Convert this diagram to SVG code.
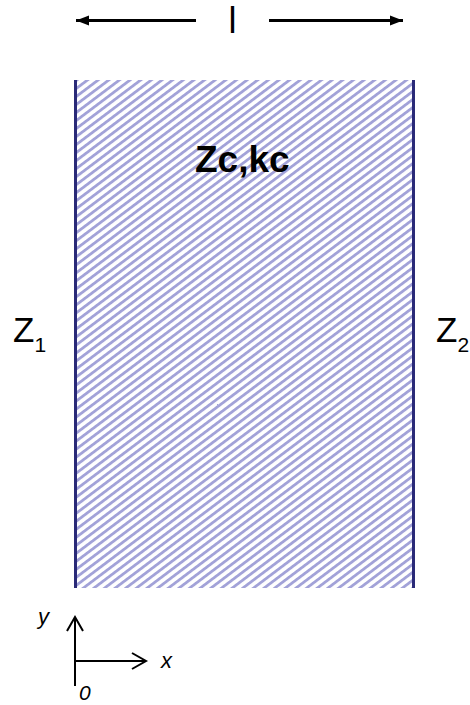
<svg xmlns="http://www.w3.org/2000/svg" width="470" height="705" viewBox="0 0 470 705">
<style>
.t{font-family:"Liberation Sans",Arial,sans-serif;fill:#000}
.ax{stroke:#000;stroke-width:2;fill:none}
.dim{stroke:#000;stroke-width:3;fill:none}
.wall{stroke:#2a2a78;stroke-width:3}
</style>
<defs>
<pattern id="hatch" patternUnits="userSpaceOnUse" width="10" height="6.4" patternTransform="rotate(-37)">
<rect x="0" y="0" width="10" height="2.8" fill="#a2a2d8"/>
</pattern>
<marker id="fa" markerWidth="14" markerHeight="12" refX="13" refY="6" orient="auto" markerUnits="userSpaceOnUse">
<path d="M0,1 L13,6 L0,11 Z" fill="#000"/>
</marker>
<marker id="oa" markerWidth="20" markerHeight="20" refX="15" refY="10" orient="auto" markerUnits="userSpaceOnUse">
<path d="M1,2 L15,10 L1,18" fill="none" stroke="#000" stroke-width="2"/>
</marker>
</defs>
<g id="medium">
<rect x="75" y="80" width="338" height="508" fill="url(#hatch)"/>
<line class="wall" x1="75.5" y1="80" x2="75.5" y2="588"/>
<line class="wall" x1="413.5" y1="80" x2="413.5" y2="588"/>
<text class="t" x="195" y="172" font-size="37" font-weight="bold">Zc,kc</text>
</g>
<g id="z1"><text class="t" x="13" y="342" font-size="35">Z<tspan font-size="21" dy="10">1</tspan></text></g>
<g id="z2"><text class="t" x="436" y="342" font-size="35">Z<tspan font-size="21" dy="10">2</tspan></text></g>
<g id="length"><text class="t" x="232.5" y="33" font-size="36" text-anchor="middle">l</text></g>
<g id="connectors">
<line class="dim" x1="196" y1="20.5" x2="76" y2="20.5" marker-end="url(#fa)"/>
<line class="dim" x1="269" y1="20.5" x2="403" y2="20.5" marker-end="url(#fa)"/>
<line class="ax" x1="75" y1="686" x2="75" y2="617" marker-end="url(#oa)"/>
<line class="ax" x1="75" y1="661" x2="146" y2="661" marker-end="url(#oa)"/>
</g>
<g id="axes-labels">
<text class="t" x="38" y="624" font-size="22" font-style="italic">y</text>
<text class="t" x="161" y="668" font-size="22" font-style="italic">x</text>
<text class="t" x="79" y="700" font-size="21" font-style="italic">0</text>
</g>
</svg>
